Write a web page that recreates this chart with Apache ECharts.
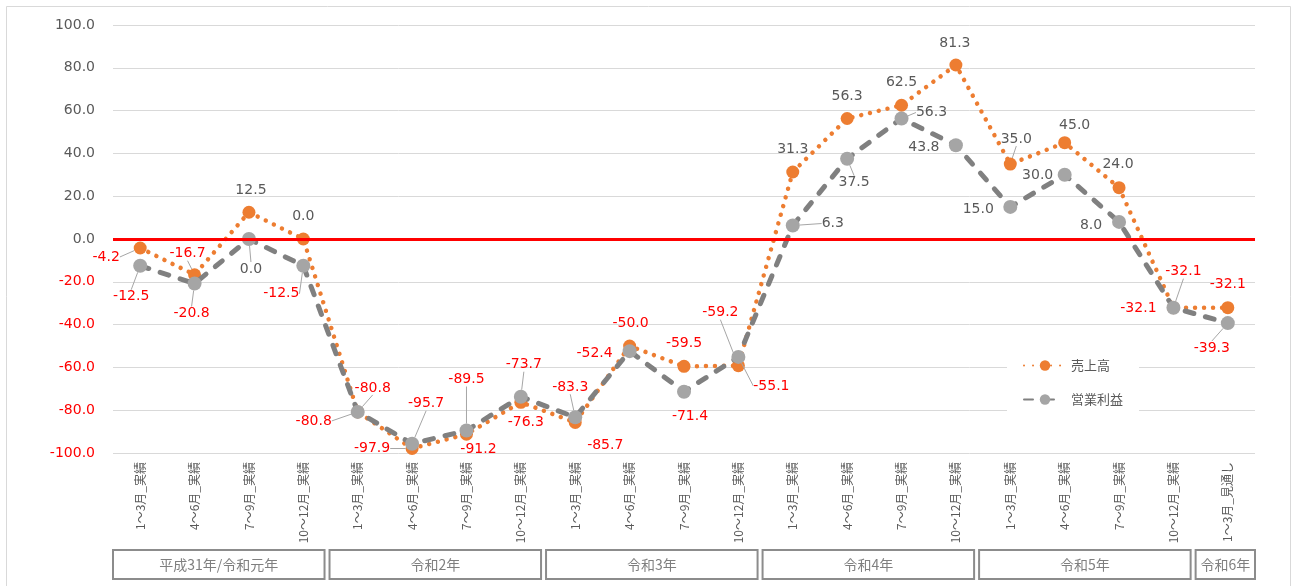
<!DOCTYPE html>
<html>
<head>
<meta charset="utf-8">
<script src="https://cdn.jsdelivr.net/npm/echarts@6/dist/echarts.min.js"></script>
<style>
  html, body { margin: 0; padding: 0; background: #ffffff; }
  #chart { width: 1292px; height: 586px; }
</style>
</head>
<body>
<div id="chart"></div>
<script>
// Quarterly categories (lower level) and fiscal-year groups (upper level)
const quarters = [
  '1～3月_実績', '4～6月_実績', '7～9月_実績', '10～12月_実績',
  '1～3月_実績', '4～6月_実績', '7～9月_実績', '10～12月_実績',
  '1～3月_実績', '4～6月_実績', '7～9月_実績', '10～12月_実績',
  '1～3月_実績', '4～6月_実績', '7～9月_実績', '10～12月_実績',
  '1～3月_実績', '4～6月_実績', '7～9月_実績', '10～12月_実績',
  '1～3月_見通し'
];
const yearGroups = ['平成31年/令和元年', '令和2年', '令和3年', '令和4年', '令和5年', '令和6年'];
const groupSizes = [4, 4, 4, 4, 4, 1];

// DI values
const sales = [
  -4.2, -16.7, 12.5, 0.0,
  -80.8, -97.9, -91.2, -76.3,
  -85.7, -50.0, -59.5, -59.2,
  31.3, 56.3, 62.5, 81.3,
  35.0, 45.0, 24.0, -32.1,
  -32.1
];
const operatingProfit = [
  -12.5, -20.8, 0.0, -12.5,
  -80.8, -95.7, -89.5, -73.7,
  -83.3, -52.4, -71.4, -55.1,
  6.3, 37.5, 56.3, 43.8,
  15.0, 30.0, 8.0, -32.1,
  -39.3
];

// Value axis range
const yMin = -100;
const yMax = 100;
const yStep = 20;

// Label placement: offset of each data label from its point, and whether a leader line is drawn
const salesLabelShift = [
  [-34, 9], [-7, -21], [2, -22], [0, -23],
  [-44, 9], [-40, 0], [12, 15], [5, 20],
  [30, 23], [1, -23], [0, -23], [-18, -53],
  [0, -23], [0, -22], [0, -23], [-1, -22],
  [6, -25], [10, -17], [-1, -23], [10, -36],
  [0, -23]
];
const salesLeader = [
  true, true, false, false,
  true, true, false, false,
  false, false, false, true,
  false, false, false, false,
  true, false, false, true,
  false
];
const profitLabelShift = [
  [-9, 31], [-3, 30], [2, 30], [-22, 28],
  [15, -24], [14, -40], [0, -51], [3, -32],
  [-5, -30], [-35, 2], [6, 25], [33, 29],
  [40, -2], [7, 24], [30, -6], [-32, 2],
  [-32, 2], [-27, 1], [-28, 3], [-35, 1],
  [-16, 25]
];
const profitLeader = [
  true, true, true, true,
  true, true, true, true,
  true, false, false, true,
  true, true, true, false,
  false, false, false, false,
  true
];

const RED = '#FF0000';
const TEXT = '#595959';
const ORANGE = '#ED7D31';
const GREY_MARK = '#A5A5A5';
const GREY_LINE = '#808080';
const NUM_FONT = 'DejaVu Sans, Verdana, sans-serif';
const JP_FONT = '"Noto Sans CJK JP", "Noto Sans", sans-serif';

function toItems(values, leaders) {
  return values.map((v, i) => ({
    value: v,
    label: { color: v < 0 ? RED : TEXT },
    labelLine: { show: leaders[i] }
  }));
}

const shifts = [salesLabelShift, profitLabelShift];

const chart = echarts.init(document.getElementById('chart'), null, { renderer: 'canvas' });

const option = {
  animation: false,
  backgroundColor: '#ffffff',
  grid: { left: 113, right: 37, top: 25, bottom: 133, containLabel: false },
  legend: {
    orient: 'vertical',
    left: 1007,
    top: 350,
    padding: [9, 16, 9, 16],
    backgroundColor: '#ffffff',
    itemWidth: 42,
    itemHeight: 13,
    itemGap: 21,
    textStyle: { color: TEXT, fontSize: 13, fontFamily: JP_FONT },
    data: ['売上高', '営業利益']
  },
  xAxis: {
    type: 'category',
    data: quarters,
    boundaryGap: true,
    axisLine: { show: false },
    axisTick: { show: false },
    axisLabel: {
      rotate: 90,
      margin: 9,
      color: TEXT,
      fontSize: 12,
      fontFamily: JP_FONT,
      interval: 0
    },
    splitLine: { show: false }
  },
  yAxis: {
    type: 'value',
    min: yMin,
    max: yMax,
    interval: yStep,
    axisLine: { show: false },
    axisTick: { show: false },
    axisLabel: {
      margin: 18,
      formatter: v => (v < 0 ? '{neg|' : '{pos|') + v.toFixed(1) + '}',
      rich: {
        neg: { color: RED, fontSize: 14, fontFamily: NUM_FONT },
        pos: { color: TEXT, fontSize: 14, fontFamily: NUM_FONT }
      }
    },
    splitLine: { show: true, lineStyle: { color: '#D9D9D9', width: 1 } }
  },
  series: [
    {
      name: '売上高',
      type: 'line',
      z: 2,
      data: toItems(sales, salesLeader),
      symbol: 'circle',
      symbolSize: 13,
      itemStyle: { color: ORANGE },
      lineStyle: { color: ORANGE, width: 4.5, type: [0.01, 9], cap: 'round' },
      label: {
        show: true,
        position: 'inside',
        formatter: p => p.value.toFixed(1),
        fontSize: 14,
        fontFamily: NUM_FONT
      },
      labelLine: { show: true, lineStyle: { color: '#A6A6A6', width: 1 } },
      labelLayout: p => {
        const s = shifts[p.seriesIndex][p.dataIndex];
        return { dx: s[0], dy: s[1] };
      },
      markLine: {
        silent: true,
        symbol: ['none', 'none'],
        label: { show: false },
        lineStyle: { color: RED, width: 3, type: 'solid' },
        data: [{ yAxis: 0 }]
      }
    },
    {
      name: '営業利益',
      type: 'line',
      z: 3,
      data: toItems(operatingProfit, profitLeader),
      symbol: 'circle',
      symbolSize: 14,
      itemStyle: { color: GREY_MARK },
      lineStyle: { color: GREY_LINE, width: 5, type: [9, 12], cap: 'round' },
      label: {
        show: true,
        position: 'inside',
        formatter: p => p.value.toFixed(1),
        fontSize: 14,
        fontFamily: NUM_FONT
      },
      labelLine: { show: true, lineStyle: { color: '#A6A6A6', width: 1 } },
      labelLayout: p => {
        const s = shifts[p.seriesIndex][p.dataIndex];
        return { dx: s[0], dy: s[1] };
      }
    }
  ]
};

chart.setOption(option);

// Year group boxes under the quarter labels, placed from the category axis
function drawGroups() {
  const c0 = chart.convertToPixel({ xAxisIndex: 0 }, 0);
  const c1 = chart.convertToPixel({ xAxisIndex: 0 }, 1);
  const step = c1 - c0;
  const boundary = i => c0 - step / 2 + i * step;
  const elements = [
    {
      type: 'rect',
      silent: true,
      shape: { x: 6.5, y: 6.5, width: 1284, height: 620 },
      style: { fill: null, stroke: '#D9D9D9', lineWidth: 1 },
      z: 0
    }
  ];
  let start = 0;
  groupSizes.forEach((n, k) => {
    const end = start + n;
    const last = k === groupSizes.length - 1;
    const left = boundary(start) - k;
    const right = last ? boundary(end) : boundary(end) - 6 - k;
    elements.push({
      type: 'rect',
      silent: true,
      shape: { x: left, y: 550, width: right - left, height: 29 },
      style: { fill: '#ffffff', stroke: '#8C8C8C', lineWidth: 2 }
    });
    elements.push({
      type: 'text',
      silent: true,
      x: (left + right) / 2,
      y: 565,
      style: {
        text: yearGroups[k],
        fill: '#7F7F7F',
        fontSize: 14,
        fontFamily: JP_FONT,
        align: 'center',
        verticalAlign: 'middle'
      }
    });
    start = end;
  });
  chart.setOption({ graphic: { elements } });
}
drawGroups();
</script>
</body>
</html>
